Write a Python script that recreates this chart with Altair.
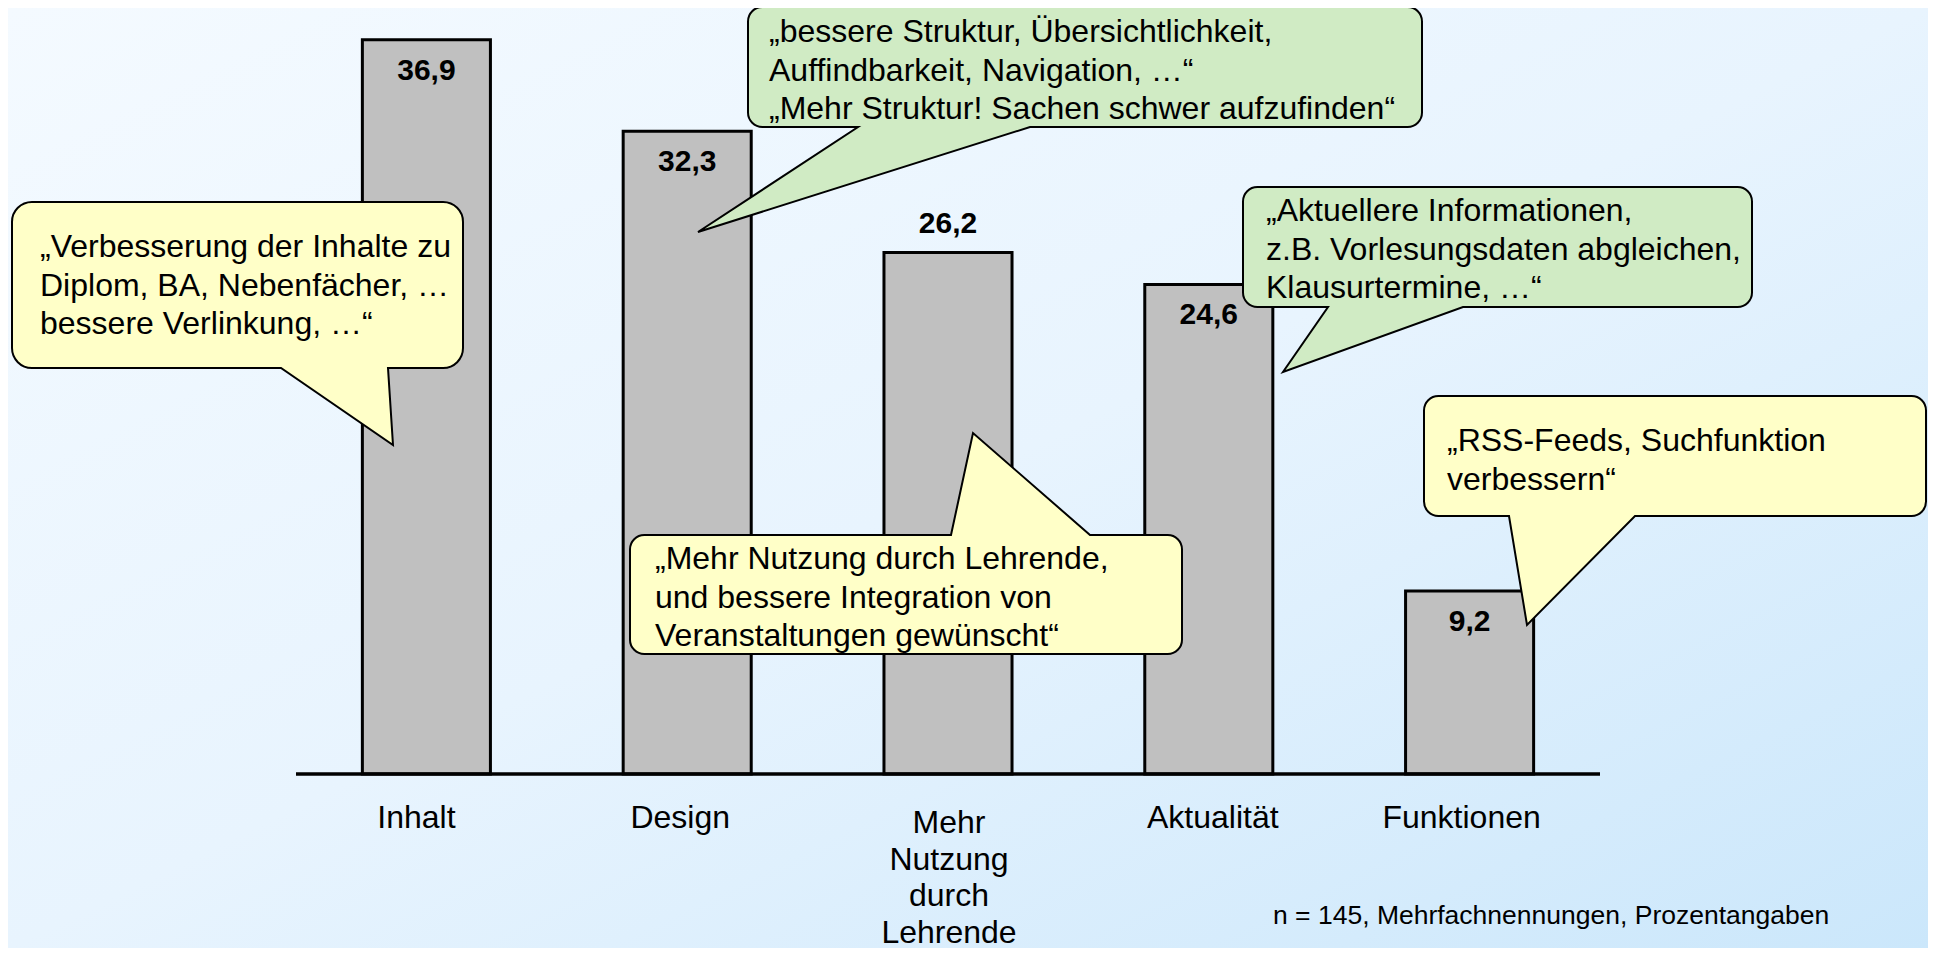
import altair as alt
import pandas as pd

# ---------------- data ----------------
categories = ["Inhalt", "Design", "Mehr Nutzung durch Lehrende", "Aktualität", "Funktionen"]
values = [36.9, 32.3, 26.2, 24.6, 9.2]
category_label_lines = [["Inhalt"], ["Design"], ["Mehr", "Nutzung", "durch", "Lehrende"],
                        ["Aktualität"], ["Funktionen"]]
value_label_place = ["inside", "inside", "above", "inside", "inside"]

quote_inhalt = ["„Verbesserung der Inhalte zu", "Diplom, BA, Nebenfächer, …", "bessere Verlinkung, …“"]
quote_design = ["„bessere Struktur, Übersichtlichkeit,", "Auffindbarkeit, Navigation, …“",
                "„Mehr Struktur! Sachen schwer aufzufinden“"]
quote_aktualitaet = ["„Aktuellere Informationen,", "z.B. Vorlesungsdaten abgleichen,", "Klausurtermine, …“"]
quote_funktionen = ["„RSS-Feeds, Suchfunktion", "verbessern“"]
quote_nutzung = ["„Mehr Nutzung durch Lehrende,", "und bessere Integration von", "Veranstaltungen gewünscht“"]
footnote = "n = 145, Mehrfachnennungen, Prozentangaben"

# ---------------- layout / style ----------------
W, H = 1920, 940
M = 8  # page margin -> convert page coordinates to chart coordinates
FONT = "Liberation Sans"
YELLOW = "#ffffc8"
GREEN = "#d0ebc4"
BAR = "#c0c0c0"
TXT = 32
# horizontal nudge (px) of each category label relative to its bar centre
label_nudge = [-10, -7, 1, 4, -8]

bubbles = [
    dict(lines=quote_inhalt, box=(12, 202, 463, 368), side="bottom", base=(281, 388), tip=(393, 445),
         fill=YELLOW, text=(40, 232.2)),
    dict(lines=quote_design, box=(748, 7, 1422, 127), side="bottom", base=(858, 1030), tip=(698, 232),
         fill=GREEN, text=(769, 17.2)),
    dict(lines=quote_aktualitaet, box=(1243, 187, 1752, 307), side="bottom", base=(1328, 1463),
         tip=(1283, 372), fill=GREEN, text=(1266, 196.2)),
    dict(lines=quote_funktionen, box=(1424, 396, 1926, 516), side="bottom", base=(1509, 1635),
         tip=(1527, 625), fill=YELLOW, text=(1447, 426.2)),
    dict(lines=quote_nutzung, box=(630, 535, 1182, 654), side="top", base=(951, 1090), tip=(973, 433),
         fill=YELLOW, text=(655, 544.2)),
]


def bubble_path(box, side, base, tip):
    x0, y0, x1, y1 = [v - M for v in box]
    b1, b2 = [v - M for v in base]
    tx, ty = tip[0] - M, tip[1] - M
    r = 0.12 * min(x1 - x0, y1 - y0)
    k = 0.5523 * r
    f = lambda v: f"{v:.1f}"
    p = [f"M{f(x0 + r)},{f(y0)}"]
    if side == "top":
        p.append(f"L{f(b1)},{f(y0)}L{f(tx)},{f(ty)}L{f(b2)},{f(y0)}")
    p.append(f"L{f(x1 - r)},{f(y0)}")
    p.append(f"C{f(x1 - r + k)},{f(y0)} {f(x1)},{f(y0 + r - k)} {f(x1)},{f(y0 + r)}")
    p.append(f"L{f(x1)},{f(y1 - r)}")
    p.append(f"C{f(x1)},{f(y1 - r + k)} {f(x1 - r + k)},{f(y1)} {f(x1 - r)},{f(y1)}")
    if side == "bottom":
        p.append(f"L{f(b2)},{f(y1)}L{f(tx)},{f(ty)}L{f(b1)},{f(y1)}")
    p.append(f"L{f(x0 + r)},{f(y1)}")
    p.append(f"C{f(x0 + r - k)},{f(y1)} {f(x0)},{f(y1 - r + k)} {f(x0)},{f(y1 - r)}")
    p.append(f"L{f(x0)},{f(y0 + r)}")
    p.append(f"C{f(x0)},{f(y0 + r - k)} {f(x0 + r - k)},{f(y0)} {f(x0 + r)},{f(y0)}")
    p.append("Z")
    return "".join(p)


df = pd.DataFrame({
    "category": categories,
    "value": values,
    "label": ["\n".join(l) for l in category_label_lines],
    "nlines": [len(l) for l in category_label_lines],
    "place": value_label_place,
})
one = pd.DataFrame({"a": [0]})

xenc = alt.X("category:N", sort=categories, axis=None,
             scale=alt.Scale(domain=categories, range=[296 - M, 1600 - M],
                             paddingInner=0.509, paddingOuter=0.2545))
yenc = alt.Y("value:Q", axis=None, scale=alt.Scale(domain=[0, 40], range=[774 - M, 774 - M - 796]))

gradient = alt.Gradient(
    gradient="linear",
    stops=[alt.GradientStop(offset=0, color="#f4faff"),
           alt.GradientStop(offset=0.5, color="#e8f4fe"),
           alt.GradientStop(offset=1, color="#cbe7fb")],
    x1=0, y1=0, x2=1, y2=1)

background = alt.Chart(one).mark_rect(color=gradient, strokeWidth=0).encode(
    x=alt.value(0), x2=alt.value(W), y=alt.value(0), y2=alt.value(H))

base = alt.Chart(df)

bars = base.mark_bar(fill=BAR, stroke="black", strokeWidth=3).encode(x=xenc, y=yenc)

baseline = alt.Chart(one).mark_rule(color="black", strokeWidth=3.5).encode(
    y=alt.value(774 - M), x=alt.value(296 - M), x2=alt.value(1600 - M))

fmt = "replace(format(datum.value, '.1f'), '.', ',')"
labels_inside = base.transform_filter("datum.place == 'inside'").transform_calculate(lbl=fmt).mark_text(
    dy=31, fontSize=30, fontWeight="bold", font=FONT, color="black", baseline="middle", align="center"
).encode(x=xenc, y=yenc, text="lbl:N")
labels_above = base.transform_filter("datum.place == 'above'").transform_calculate(lbl=fmt).mark_text(
    dy=-29, fontSize=30, fontWeight="bold", font=FONT, color="black", baseline="middle", align="center"
).encode(x=xenc, y=yenc, text="lbl:N")

layers = [background, bars, baseline, labels_inside, labels_above]

for b in bubbles:
    shape = alt.Chart(one).mark_point(
        shape=bubble_path(b["box"], b["side"], b["base"], b["tip"]), size=4, filled=True,
        fill=b["fill"], stroke="black", strokeWidth=2, opacity=1
    ).encode(x=alt.value(0), y=alt.value(0))
    txt = alt.Chart(one).mark_text(
        fontSize=TXT, font=FONT, color="black", baseline="top", align="left", lineBreak="\n", lineHeight=38.5
    ).encode(x=alt.value(b["text"][0] - M), y=alt.value(b["text"][1] - M),
             text=alt.value("\n".join(b["lines"])))
    layers += [shape, txt]

# category labels below the baseline
for cat, lines, nudge in zip(categories, category_label_lines, label_nudge):
    multi = len(lines) > 1
    lab = base.transform_filter(alt.datum.category == cat).mark_text(
        fontSize=TXT, font=FONT, color="black", baseline="top", align="center", lineBreak="\n",
        lineHeight=36.5 if multi else 38, dx=nudge
    ).encode(x=xenc, y=alt.value((808 if multi else 803) - M), text="label:N")
    layers.append(lab)

foot = alt.Chart(one).mark_text(
    fontSize=26.5, font=FONT, color="black", baseline="middle", align="left"
).encode(x=alt.value(1273 - M), y=alt.value(915.5 - M), text=alt.value(footnote))

layers.append(foot)

chart = alt.layer(*layers).properties(
    width=W, height=H, padding=0, autosize=alt.AutoSizeParams(type="none")
).configure(font=FONT, background="white").configure_view(strokeWidth=0)

chart.save("out.html", embed_options={"renderer": "svg", "actions": False})
